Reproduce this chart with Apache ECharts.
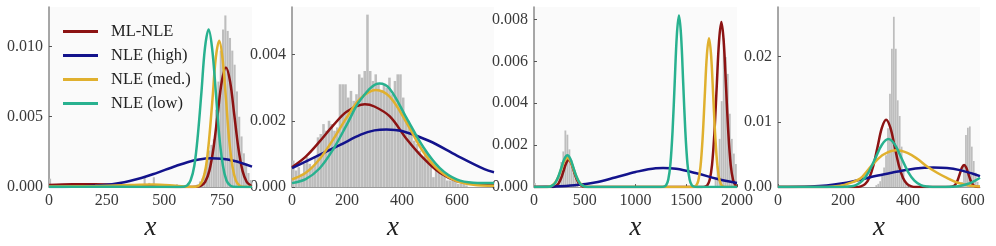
<!DOCTYPE html>
<html><head><meta charset="utf-8">
<script src="https://cdn.jsdelivr.net/npm/echarts@6/dist/echarts.min.js"></script>
<style>html,body{margin:0;padding:0;background:#fff}#c{width:996px;height:246px}</style>
</head><body><div id="c"></div>
<script>
// ---------- data ----------
const seriesNames = ['ML-NLE', 'NLE (high)', 'NLE (med.)', 'NLE (low)'];

// panel 1
const p1Ticks = [0, 250, 500, 750];
const p1YTicks = [0, 0.005, 0.010];
const p1BinWidth = 10;
const p1Hist = [[0,0.0006],[410,0.0007],[430,0.0003],[450,0.0007],[550,0.0002],[600,0.0003],[640,0.0002],[650,0.0004],[660,0.0006],[670,0.0010],[680,0.0018],[690,0.0026],[700,0.0030],[710,0.0034],[720,0.0055],[730,0.0075],[740,0.0097],[750,0.0112],[760,0.0122],[770,0.0111],[780,0.0106],[790,0.0097],[800,0.0087],[810,0.0068],[820,0.0050],[830,0.0036],[840,0.0024],[850,0.0016],[860,0.0010],[870,0.0005]];
const p1ML = [[0,0.00015],[100,0.0002],[200,0.0002],[300,0.00015],[400,0.00008],[500,0.00003],[600,0.00001],[640,0.00003],[659,0.0001],[677,0.00037],[695,0.00115],[713,0.00276],[731,0.00516],[749,0.0075],[767,0.0085],[785,0.0075],[803,0.00516],[821,0.00276],[839,0.00115],[857,0.00037],[875,0.0001],[880,0.00007]];
const p1High = [[0,0.000005],[100,0.000024],[200,0.00009],[250,0.00016],[300,0.00028],[350,0.00044],[400,0.00065],[450,0.00091],[500,0.00121],[550,0.0015],[600,0.00177],[650,0.00196],[700,0.00205],[750,0.00201],[800,0.00187],[840,0.00168],[880,0.00146]];
const p1Med = [[0,0.00005],[200,0.00008],[350,0.00015],[450,0.00018],[550,0.0001],[610,0.00003],[636,0.00003],[651,0.00012],[665,0.00046],[680,0.00141],[694,0.00338],[709,0.00631],[723,0.00918],[738,0.0104],[752,0.00918],[767,0.00631],[781,0.00338],[796,0.00141],[810,0.00046],[825,0.00012],[840,0.00002],[880,0]];
const p1Low = [[0,0.00002],[300,0.00002],[550,0.00001],[584,0.00003],[599,0.00012],[614,0.00049],[630,0.00152],[645,0.00364],[661,0.00679],[676,0.00988],[692,0.0112],[707,0.00988],[723,0.00679],[738,0.00364],[754,0.00152],[769,0.00049],[785,0.00012],[800,0.00003],[880,0]];

// panel 2
const p2Ticks = [0, 200, 400, 600];
const p2YTicks = [0, 0.002, 0.004];
const p2BinWidth = 10;
const p2Hist = [[0,0.0008],[10,0.0005],[20,0.0006],[30,0.0004],[40,0.0007],[50,0.0009],[60,0.0007],[70,0.0006],[80,0.0009],[90,0.0015],[100,0.0016],[110,0.0019],[120,0.0017],[130,0.0020],[140,0.0019],[150,0.0017],[160,0.0018],[170,0.0031],[180,0.0031],[190,0.0031],[200,0.0027],[210,0.0029],[220,0.0026],[230,0.0028],[240,0.0034],[250,0.0033],[260,0.0035],[270,0.0052],[280,0.0035],[290,0.0032],[300,0.0034],[310,0.0031],[320,0.0029],[330,0.0031],[340,0.0030],[350,0.0033],[360,0.0028],[370,0.0032],[380,0.0034],[390,0.0034],[400,0.0027],[410,0.0021],[420,0.0020],[430,0.0018],[440,0.0014],[450,0.0013],[460,0.0011],[470,0.0009],[480,0.0011],[490,0.0010],[500,0.0007],[510,0.0003],[520,0.0006],[530,0.0005],[540,0.0004],[550,0.0004],[560,0.0002],[570,0.0002],[580,0.0002],[590,0.0002],[600,0.0001],[610,0.0001],[620,0.0001],[630,0.00005]];
const p2ML = [[0,0.0006],[50,0.00092],[100,0.00137],[150,0.00186],[200,0.00228],[265,0.0025],[300,0.00243],[356,0.00213],[417,0.00145],[478,0.00087],[538,0.00043],[600,0.00018],[660,0.0001],[735,0.00006]];
const p2High = [[0,0.00057],[100,0.00097],[175,0.00127],[250,0.00158],[300,0.00171],[344,0.00174],[400,0.00169],[500,0.00139],[600,0.00095],[700,0.00054],[735,0.00045]];
const p2Med = [[0,0.00023],[50,0.00043],[100,0.00084],[150,0.00144],[200,0.00211],[250,0.00268],[305,0.00293],[356,0.00272],[417,0.00194],[478,0.00106],[538,0.00048],[599,0.00018],[660,0.00007],[735,0.00004]];
const p2Low = [[0,0.00012],[50,0.00024],[100,0.00056],[150,0.00114],[200,0.00189],[250,0.00264],[318,0.00312],[356,0.00296],[417,0.00208],[478,0.0012],[538,0.00057],[599,0.00023],[660,0.00013],[735,0.00012]];

// panel 3
const p3Ticks = [0, 500, 1000, 1500, 2000];
const p3YTicks = [0, 0.002, 0.004, 0.006, 0.008];
const p3BinWidth = 20;
const p3Hist = [[0,0.0002],[220,0.0002],[240,0.0006],[260,0.0012],[280,0.0017],[300,0.0027],[320,0.0025],[340,0.0018],[360,0.0013],[380,0.0008],[400,0.0004],[420,0.0002],[1780,0.0004],[1800,0.0010],[1820,0.0023],[1840,0.0041],[1860,0.0071],[1880,0.0062],[1900,0.0054],[1920,0.0035],[1940,0.0023],[1960,0.0016],[1980,0.0011]];
const p3ML = [[0,0],[150,0],[192,0.00001],[217,0.00006],[242,0.00018],[267,0.00042],[292,0.00078],[317,0.00114],[342,0.00129],[367,0.00114],[392,0.00078],[417,0.00042],[442,0.00018],[467,0.00006],[492,0.00001],[550,0],[1650,0],[1685,0.00002],[1708,0.00009],[1731,0.00035],[1754,0.00106],[1777,0.00256],[1800,0.00477],[1823,0.00695],[1846,0.00787],[1869,0.00695],[1892,0.00477],[1915,0.00256],[1938,0.00106],[1961,0.00035],[1984,0.00009],[2000,0.00003]];
const p3High = [[0,0.00001],[200,0.00003],[400,0.00009],[600,0.00022],[800,0.00046],[1000,0.00072],[1200,0.0009],[1271,0.00091],[1400,0.00087],[1600,0.00066],[1800,0.0004],[2000,0.0002]];
const p3Med = [[0,0],[110,0],[143,0.00002],[174,0.00006],[205,0.00019],[236,0.00045],[267,0.00085],[298,0.00124],[329,0.0014],[360,0.00124],[391,0.00085],[422,0.00045],[453,0.00019],[484,0.00006],[515,0.00002],[550,0],[1540,0],[1577,0.00002],[1598,0.00008],[1619,0.00031],[1640,0.00096],[1661,0.00231],[1682,0.00431],[1703,0.00627],[1724,0.0071],[1745,0.00627],[1766,0.00431],[1787,0.00231],[1808,0.00096],[1829,0.00031],[1850,0.00008],[1871,0.00002],[1910,0],[2000,0]];
const p3Low = [[0,0],[110,0],[149,0.00002],[179,0.00007],[209,0.0002],[239,0.00049],[269,0.00092],[299,0.00134],[329,0.00152],[359,0.00134],[389,0.00092],[419,0.00049],[449,0.0002],[479,0.00007],[509,0.00002],[550,0],[1250,0],[1281,0.00002],[1302,0.00009],[1323,0.00036],[1344,0.00111],[1365,0.00266],[1386,0.00496],[1407,0.00722],[1428,0.00818],[1449,0.00722],[1470,0.00496],[1491,0.00266],[1512,0.00111],[1533,0.00036],[1554,0.00009],[1575,0.00002],[1610,0],[2000,0]];

// panel 4
const p4Ticks = [0, 200, 400, 600];
const p4YTicks = [0, 0.01, 0.02];
const p4BinWidth = 6;
const p4Hist = [[0,0.0002],[300,0.0003],[306,0.0005],[312,0.0009],[318,0.0018],[324,0.0030],[330,0.0049],[336,0.0090],[342,0.0143],[348,0.0212],[354,0.0261],[360,0.0212],[366,0.0133],[372,0.0109],[378,0.0062],[384,0.0025],[390,0.0010],[396,0.0004],[558,0.0003],[564,0.0008],[570,0.0034],[576,0.0080],[582,0.0091],[588,0.0093],[594,0.0062],[600,0.0040],[606,0.0022],[612,0.0008]];
const p4ML = [[0,0],[200,0],[242,0.00002],[255,0.00012],[268,0.00045],[281,0.0014],[294,0.00335],[307,0.00626],[320,0.00911],[333,0.01032],[346,0.00911],[359,0.00626],[372,0.00335],[385,0.0014],[398,0.00045],[411,0.00012],[424,0.00002],[460,0],[510,0],[527,0.00001],[534,0.00004],[540.5,0.00015],[547,0.00046],[553.5,0.0011],[560,0.00206],[566.5,0.003],[573,0.0034],[579.5,0.003],[586,0.00206],[592.5,0.0011],[599,0.00046],[605.5,0.00015],[612,0.00004],[622,0]];
const p4High = [[0,0.00003],[100,0.0001],[150,0.00025],[200,0.0006],[250,0.0011],[300,0.0017],[350,0.0022],[400,0.00267],[450,0.00295],[479,0.003],[520,0.00292],[560,0.0026],[600,0.00205],[622,0.00168]];
const p4Med = [[0,0],[150,0.00003],[192,0.0002],[220,0.0006],[253,0.0013],[275,0.0025],[294,0.0036],[325,0.0050],[366,0.00563],[400,0.0052],[430,0.0043],[458,0.0032],[490,0.0022],[520,0.0014],[551,0.0007],[592,0.0002],[622,0.00008]];
const p4Low = [[0,0.00002],[180,0.00002],[200,0.00003],[220,0.00008],[240,0.00032],[260,0.001],[280,0.00239],[300,0.00446],[320,0.0065],[340,0.00736],[360,0.0065],[380,0.00446],[400,0.00239],[420,0.001],[440,0.00032],[460,0.00008],[480,0.00002],[500,0.00001],[530,0.00005],[560,0.00018],[581,0.00044],[600,0.0008],[622,0.00144]];

// ---------- styling / layout ----------
const colors = ['#8c1313', '#13138c', '#e0b02e', '#28b18f'];
const panels = [
  {left:49, width:203, xmax:880, ymax:0.0128, ticks:p1Ticks, yticks:p1YTicks, dec:3, bw:p1BinWidth, hist:p1Hist, curves:[p1ML,p1High,p1Med,p1Low]},
  {left:292, width:202, xmax:735, ymax:0.00543, ticks:p2Ticks, yticks:p2YTicks, dec:3, bw:p2BinWidth, hist:p2Hist, curves:[p2ML,p2High,p2Med,p2Low]},
  {left:534, width:203, xmax:2000, ymax:0.00859, ticks:p3Ticks, yticks:p3YTicks, dec:3, bw:p3BinWidth, hist:p3Hist, curves:[p3ML,p3High,p3Med,p3Low]},
  {left:778, width:202, xmax:622, ymax:0.0276, ticks:p4Ticks, yticks:p4YTicks, dec:2, bw:p4BinWidth, hist:p4Hist, curves:[p4ML,p4High,p4Med,p4Low]}
];
const FONT = 'Liberation Serif';
const grid = [], xAxis = [], yAxis = [], series = [];
panels.forEach((p, i) => {
  grid.push({left:p.left, top:7, width:p.width, height:186, show:true, backgroundColor:'#fafafa', borderWidth:0});
  xAxis.push({type:'value', gridIndex:i, min:0, max:p.xmax,
    name:'x', nameLocation:'middle', nameGap:13,
    nameTextStyle:{fontFamily:FONT, fontStyle:'italic', fontSize:27, color:'#222'},
    axisLine:{show:true, lineStyle:{color:'#9a9a9a', width:1}},
    axisTick:{show:true, inside:true, length:3, lineStyle:{color:'#555'}, customValues:p.ticks},
    axisLabel:{customValues:p.ticks, fontFamily:FONT, fontSize:16, color:'#3a3a3a', margin:6,
      formatter:(v) => String(Math.round(v))},
    splitLine:{show:false}});
  yAxis.push({type:'value', gridIndex:i, min:0, max:p.ymax,
    axisLine:{show:true, lineStyle:{color:'#8a8a8a', width:1.5}},
    axisTick:{show:true, inside:true, length:3, lineStyle:{color:'#555'}, customValues:p.yticks},
    axisLabel:{customValues:p.yticks, fontFamily:FONT, fontSize:16, color:'#3a3a3a', margin:6,
      formatter:(v) => Number(v).toFixed(p.dec)},
    splitLine:{show:false}});
  series.push({type:'custom', xAxisIndex:i, yAxisIndex:i, clip:true, silent:true,
    encode:{x:[0,1], y:2},
    data:p.hist.map(d => [d[0], d[0] + p.bw, d[1]]),
    renderItem:(params, api) => {
      const a = api.coord([api.value(0), api.value(2)]);
      const b = api.coord([api.value(1), 0]);
      return {type:'rect', shape:{x:a[0], y:a[1], width:Math.max(0.5, b[0]-a[0]-0.2), height:b[1]-a[1]},
        style:{fill:'#bdbdbd'}};
    }});
  p.curves.forEach((c, k) => {
    series.push({type:'line', name:seriesNames[k], xAxisIndex:i, yAxisIndex:i, data:c,
      showSymbol:false, smooth:0.35, clip:true,
      lineStyle:{color:colors[k], width:2.5}, itemStyle:{color:colors[k]}});
  });
});

const chart = echarts.init(document.getElementById('c'), null, {renderer:'canvas'});
chart.setOption({
  animation:false,
  grid, xAxis, yAxis, series,
  legend:{data:seriesNames, orient:'vertical', left:63, top:23, padding:0, icon:'rect', itemWidth:35, itemHeight:3,
    itemGap:7, textStyle:{fontFamily:FONT, fontSize:16.5, color:'#222', padding:[0,0,0,8]}}
});
</script></body></html>
